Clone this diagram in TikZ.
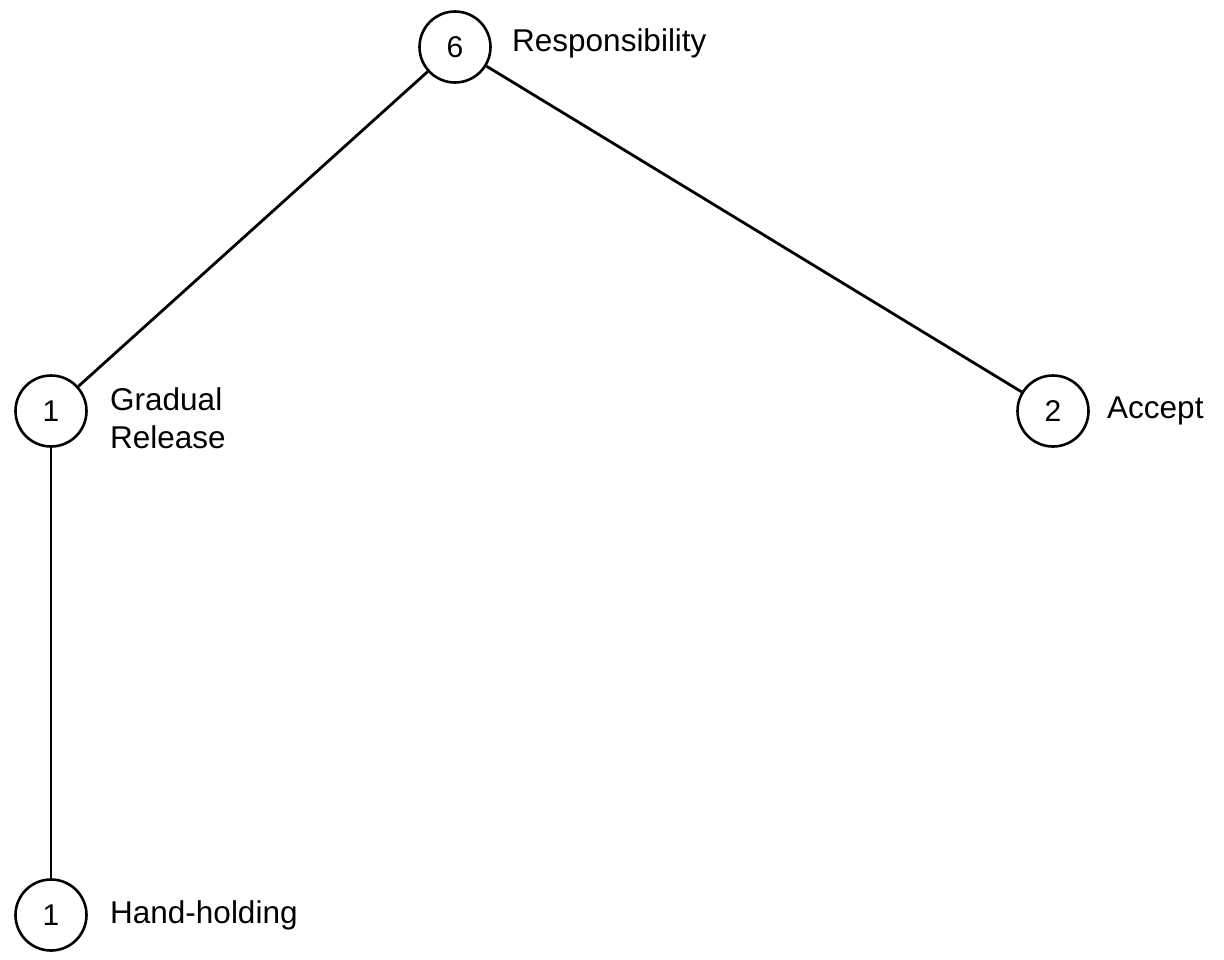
\documentclass[tikz,border=0pt]{standalone}
\usepackage{fontspec}
\setmainfont{Liberation Sans}
\begin{document}
\begin{tikzpicture}[x=1pt,y=-1pt,
  num/.style={circle,draw,line width=2.6pt,minimum size=71pt,inner sep=0pt,
    font=\fontsize{30}{34}\selectfont},
  lab/.style={anchor=west,align=left,inner sep=0pt,
    font=\fontsize{31.5}{38}\selectfont},
  edge/.style={line width=2.8pt}]
\useasboundingbox (0,0) rectangle (1224,959);
% score circles
\node[num] (resp) at (455,47) {6};
\node[num] (grad) at (51,411) {1};
\node[num] (acc) at (1053,411) {2};
\node[num] (hand) at (51,915) {1};
% labels beside the circles
\node[lab] (respl) at (512,43) {Responsibility};
\node[lab] (gradl) at (110,418) {Gradual\\Release};
\node[lab] (accl) at (1107,411) {Accept};
\node[lab] (handl) at (110,915) {Hand-holding};
% connectors
\draw[edge] (resp) -- (grad);
\draw[edge] (resp) -- (acc);
\draw[edge] (grad) -- (hand);
\end{tikzpicture}
\end{document}
